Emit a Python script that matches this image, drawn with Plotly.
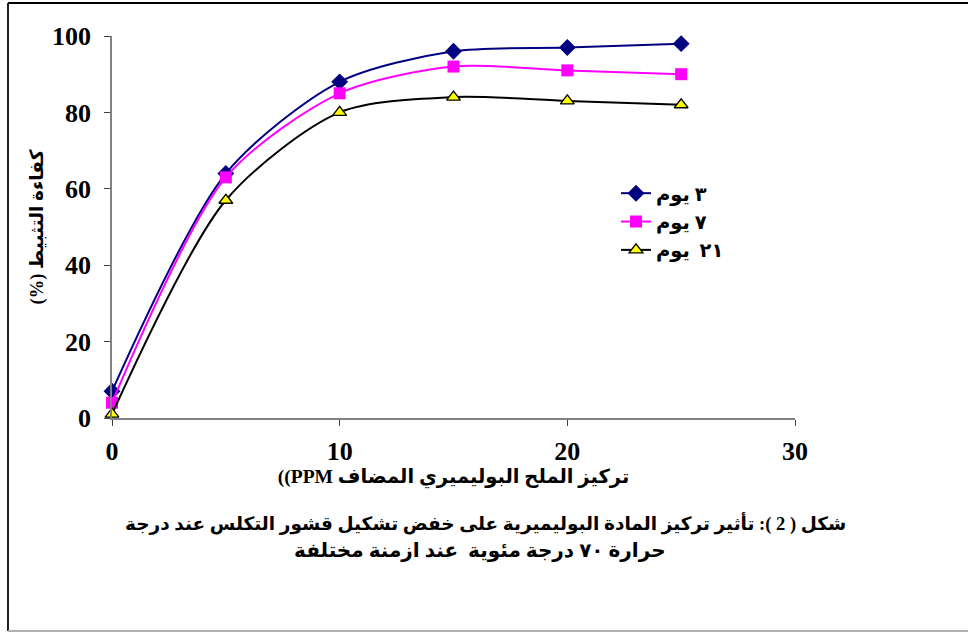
import plotly.graph_objects as go

x_ppm = [0, 5, 10, 15, 20, 25]
day3 = [7, 64, 88, 96, 97, 98]
day7 = [4, 63, 85, 92, 91, 90]
day21 = [1, 57, 80, 84, 83, 82]
series_names = ["٣ يوم", "٧ يوم", "٢١  يوم"]
x_ticks = [0, 10, 20, 30]
y_ticks = [0, 20, 40, 60, 80, 100]

RLM = "\u200f"
LRM = "\u200e"
x_title = LRM + "((PPM" + LRM + " تركيز الملح البوليميري المضاف"
y_title = RLM + "كفاءة التثبيط (%)" + RLM
caption1 = RLM + "شكل ( 2 ): تأثير تركيز المادة البوليميرية على خفض تشكيل قشور التكلس عند درجة" + RLM
caption2 = RLM + "حرارة ٧٠ درجة مئوية  عند ازمنة مختلفة" + RLM

SERIF = "Times New Roman, Liberation Serif, serif"
ARAB = "Times New Roman, Liberation Serif, DejaVu Sans, sans-serif"

fig = go.Figure()
styles = [
    (day3, "#000080", dict(symbol="diamond", size=13, color="#000080", line=dict(width=0))),
    (day7, "#FF00FF", dict(symbol="square", size=12, color="#FF00FF", line=dict(width=0))),
    (day21, "#000000", dict(symbol="triangle-up", size=12, color="#FFFF00", line=dict(width=1.3, color="#000000"))),
]
for (vals, col, mk), name in zip(styles, series_names):
    fig.add_trace(go.Scatter(
        x=x_ppm, y=vals, name=name, mode="lines+markers",
        line=dict(color=col, width=2, shape="spline", smoothing=0.8),
        marker=mk, cliponaxis=False,
    ))

L, R, T, B = 112, 968 - 795, 36, 632 - 418
PW, PH = 795 - 112, 418 - 36

def px(xp):
    return (xp - L) / PW

def py(yp):
    return (418 - yp) / PH

fig.update_layout(
    width=968, height=632,
    margin=dict(l=L, r=R, t=T, b=B, pad=0, autoexpand=False),
    paper_bgcolor="white", plot_bgcolor="white",
    showlegend=True,
    legend=dict(
        x=px(616), y=py(174), xanchor="left", yanchor="top",
        font=dict(family=ARAB, size=19.5, color="black", weight="bold"),
        bgcolor="rgba(0,0,0,0)", tracegroupgap=0, itemwidth=30,
    ),
    xaxis=dict(
        range=[0, 30], tickvals=x_ticks, showgrid=False, zeroline=False,
        showline=True, linecolor="#808080", linewidth=1.5,
        ticks="outside", ticklen=6, tickcolor="#404040", tickwidth=1,
        tickfont=dict(family=SERIF, size=26, color="black", weight="bold"),
        ticklabelstandoff=3, automargin=False,
        title=dict(text=x_title, font=dict(family=ARAB, size=19.5, color="black", weight="bold"), standoff=0),
    ),
    yaxis=dict(
        range=[0, 100], tickvals=y_ticks, showgrid=False, zeroline=False,
        showline=True, linecolor="#808080", linewidth=1.5,
        ticks="outside", ticklen=6, tickcolor="#404040", tickwidth=1,
        tickfont=dict(family=SERIF, size=26, color="black", weight="bold"),
        ticklabelstandoff=8, automargin=False,
        title=dict(text=y_title, font=dict(family=ARAB, size=18.5, color="black", weight="bold"), standoff=4),
    ),
    annotations=[
        dict(text=caption1, x=px(485), y=py(523), xref="paper", yref="paper",
             showarrow=False, xanchor="center", yanchor="middle",
             font=dict(family=ARAB, size=18.5, color="black", weight="bold")),
        dict(text=caption2, x=px(480), y=py(550), xref="paper", yref="paper",
             showarrow=False, xanchor="center", yanchor="middle",
             font=dict(family=ARAB, size=20, color="black", weight="bold")),
    ],
    shapes=[
        dict(type="line", xref="paper", yref="paper", x0=px(8), x1=px(8), y0=py(3), y1=py(631),
             line=dict(color="#202020", width=2)),
        dict(type="line", xref="paper", yref="paper", x0=px(8), x1=px(975), y0=py(3), y1=py(3),
             line=dict(color="#000000", width=2)),
        dict(type="line", xref="paper", yref="paper", x0=px(8), x1=px(975), y0=py(631), y1=py(631),
             line=dict(color="#b0b0b0", width=2)),
    ],
)

fig.write_html(
    "out.html",
    config={"displayModeBar": False},
    post_script="document.body.style.margin='0';document.body.style.overflow='hidden';",
)
